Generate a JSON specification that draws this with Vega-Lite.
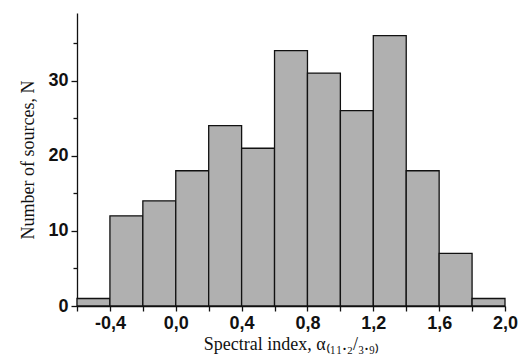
{
  "$schema": "https://vega.github.io/schema/vega-lite/v6.json",
  "width": 428,
  "height": 293,
  "autosize": {"type": "none"},
  "padding": {"left": 77, "top": 13, "right": 27, "bottom": 57},
  "background": "white",
  "data": {"values": [
    {"start": -0.6, "end": -0.4, "count": 1},
    {"start": -0.4, "end": -0.2, "count": 12},
    {"start": -0.2, "end": 0.0, "count": 14},
    {"start": 0.0, "end": 0.2, "count": 18},
    {"start": 0.2, "end": 0.4, "count": 24},
    {"start": 0.4, "end": 0.6, "count": 21},
    {"start": 0.6, "end": 0.8, "count": 34},
    {"start": 0.8, "end": 1.0, "count": 31},
    {"start": 1.0, "end": 1.2, "count": 26},
    {"start": 1.2, "end": 1.4, "count": 36},
    {"start": 1.4, "end": 1.6, "count": 18},
    {"start": 1.6, "end": 1.8, "count": 7},
    {"start": 1.8, "end": 2.0, "count": 1}
  ]},
  "mark": {"type": "bar", "fill": "#b0b0b0", "stroke": "#111111", "strokeWidth": 1.3},
  "encoding": {
    "x": {
      "field": "start", "type": "quantitative",
      "scale": {"domain": [-0.6, 2.0], "nice": false, "zero": false},
      "axis": {
        "title": "Spectral index, α₍₁₁.₂/₃.₉₎",
        "values": [-0.6, -0.4, -0.2, 0, 0.2, 0.4, 0.6, 0.8, 1.0, 1.2, 1.4, 1.6, 1.8, 2.0],
        "labelExpr": "abs(round(datum.value*10)) % 4 == 0 ? replace(replace(format(datum.value, '.1f'), '−', '-'), '.', ',') : ''",
        "grid": false,
        "domainColor": "#111111", "domainWidth": 1.3,
        "tickColor": "#111111", "tickWidth": 1.3, "tickSize": 5,
        "labelFont": "Liberation Sans", "labelFontWeight": "bold", "labelFontSize": 18,
        "labelColor": "#111111", "labelPadding": 3, "labelFlush": false, "labelOverlap": false,
        "titleFont": "Liberation Serif", "titleFontWeight": "normal", "titleFontSize": 18,
        "titleColor": "#111111", "titlePadding": 3
      }
    },
    "x2": {"field": "end"},
    "y": {
      "field": "count", "type": "quantitative",
      "scale": {"domain": [0, 39], "nice": false},
      "axis": {
        "title": "Number of sources, N",
        "values": [0, 5, 10, 15, 20, 25, 30, 35],
        "labelExpr": "datum.value % 10 == 0 ? datum.label : ''",
        "grid": false,
        "domainColor": "#111111", "domainWidth": 1.3,
        "tickColor": "#111111", "tickWidth": 1.3,
        "tickSize": {"condition": {"test": "datum.value % 10 == 0", "value": 6}, "value": 4},
        "labelFont": "Liberation Sans", "labelFontWeight": "bold", "labelFontSize": 18,
        "labelColor": "#111111", "labelPadding": 3,
        "titleFont": "Liberation Serif", "titleFontWeight": "normal", "titleFontSize": 18,
        "titleColor": "#111111", "titlePadding": 10
      }
    },
    "y2": {"datum": 0}
  },
  "config": {"view": {"stroke": null}}
}
